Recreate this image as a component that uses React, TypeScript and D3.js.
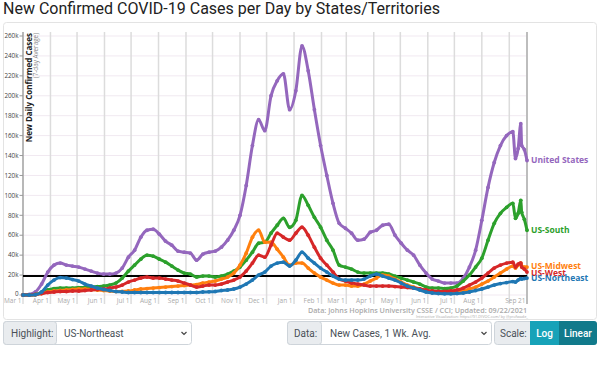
import React, { useEffect, useRef } from "react";
import * as d3 from "d3";

// weekly dates (Sundays) plus a few extra points in Sep 2021
const dates = [
  "2020-03-01", "2020-03-08", "2020-03-15", "2020-03-22", "2020-03-29",
  "2020-04-05", "2020-04-12", "2020-04-19", "2020-04-26",
  "2020-05-03", "2020-05-10", "2020-05-17", "2020-05-24", "2020-05-31",
  "2020-06-07", "2020-06-14", "2020-06-21", "2020-06-28",
  "2020-07-05", "2020-07-12", "2020-07-19", "2020-07-26",
  "2020-08-02", "2020-08-09", "2020-08-16", "2020-08-23", "2020-08-30",
  "2020-09-06", "2020-09-13", "2020-09-20", "2020-09-27",
  "2020-10-04", "2020-10-11", "2020-10-18", "2020-10-25",
  "2020-11-01", "2020-11-08", "2020-11-15", "2020-11-22", "2020-11-29",
  "2020-12-06", "2020-12-13", "2020-12-20", "2020-12-27",
  "2021-01-03", "2021-01-10", "2021-01-17", "2021-01-24", "2021-01-31",
  "2021-02-07", "2021-02-14", "2021-02-21", "2021-02-28",
  "2021-03-07", "2021-03-14", "2021-03-21", "2021-03-28",
  "2021-04-04", "2021-04-11", "2021-04-18", "2021-04-25",
  "2021-05-02", "2021-05-09", "2021-05-16", "2021-05-23", "2021-05-30",
  "2021-06-06", "2021-06-13", "2021-06-20", "2021-06-27",
  "2021-07-04", "2021-07-11", "2021-07-18", "2021-07-25",
  "2021-08-01", "2021-08-08", "2021-08-15", "2021-08-22", "2021-08-29",
  "2021-09-05", "2021-09-08", "2021-09-11", "2021-09-14", "2021-09-15", "2021-09-18", "2021-09-21",
];

// values in thousands, 7-day average
const unitedStates = [
  0, 0.5, 3, 11, 23,
  30, 32, 30, 29,
  28, 26, 24, 22, 21,
  21, 22, 27, 38,
  45, 58, 65, 66,
  61, 54, 50, 44, 43,
  42, 35, 41, 43,
  44, 48, 55, 65,
  80, 110, 150, 176, 165,
  200, 215, 222, 186,
  205, 250, 225, 186, 150,
  120, 92, 72, 67,
  62, 55, 56, 63,
  65, 70, 71, 60,
  52, 45, 40, 30, 22,
  16, 14, 12, 12,
  12, 17, 28, 45,
  75, 108, 133, 150, 160,
  164, 137, 147, 172, 150, 146, 135,
];
const usSouth = [
  0, 0, 0.5, 2.5, 5,
  6.5, 7, 7, 7,
  7.5, 7.5, 8, 8.5, 9,
  10, 12, 17, 24,
  30, 36, 40, 39,
  36, 33, 29, 25, 22,
  21, 18, 19, 19,
  18, 19, 21, 24,
  28, 35, 43, 52, 53,
  62, 70, 77, 68,
  75, 100, 90, 78, 68,
  55, 45, 30, 28,
  26, 23, 22, 22,
  22, 22, 21, 19,
  17, 15, 13, 11, 8,
  7, 7, 6.5, 7,
  9, 14, 20, 28,
  37, 55, 72, 82, 88,
  92, 77, 82, 95, 83, 76, 65,
];
const usMidwest = [
  0, 0, 0.3, 1.5, 3,
  4, 4.5, 5, 5.5,
  6, 6, 5.5, 5, 4.5,
  4, 3.5, 3.5, 4,
  5, 6, 6.5, 7,
  7.5, 8, 8.5, 9, 9.5,
  10, 10.5, 12, 13,
  14, 16, 18, 22,
  30, 42, 58, 65, 53,
  53, 46, 38, 30,
  32, 32, 27, 22, 18,
  15, 12, 10, 10,
  9, 9, 11, 14,
  17, 20, 19, 16,
  13, 10, 8, 6, 4,
  3.5, 3, 2.5, 2.5,
  3, 4, 6, 8,
  11, 14, 18, 22, 26,
  29, 27, 30, 32, 29, 28, 28,
];
const usWest = [
  0, 0.1, 0.5, 1.5, 2.5,
  3, 3.5, 3.5, 4,
  4, 4.5, 5, 5.5, 6,
  7, 8, 10, 13,
  15, 17, 18, 17,
  17, 16, 15, 14, 12,
  10, 8, 9, 10,
  10, 11, 13, 15,
  18, 24, 32, 40, 38,
  50, 62, 58, 55,
  62, 68, 60, 48, 37,
  30, 23, 16, 14,
  12, 11, 10, 9,
  9, 9, 9, 8.5,
  8, 7.5, 7, 6, 5,
  4, 3.5, 3.5, 4,
  5, 7, 10, 13,
  17, 22, 27, 30, 32,
  33, 28, 31, 32, 28, 26, 23,
];
const usNortheast = [
  0, 0, 0.3, 3, 10,
  15, 17.5, 17, 15.5,
  14, 11, 9, 7, 5.5,
  4.5, 3.5, 3, 2.5,
  2.5, 2.5, 2.5, 2.5,
  2.5, 2.5, 2.5, 2.5, 2.5,
  2.5, 2.5, 3, 3.2,
  3.5, 4.5, 5, 6,
  8, 11, 15, 20, 23,
  29, 32, 33, 29,
  35, 43, 37, 32, 27,
  23, 19, 16, 15,
  15, 15, 16, 19,
  21, 19, 17, 15,
  12, 9, 7, 5, 3,
  2, 1.5, 1.2, 1.2,
  1.5, 2, 3, 4.5,
  6, 8, 10, 11.5, 12.5,
  13.5, 13, 15, 16.5, 16, 16.5, 17,
];

const seriesNames = ["United States", "US-South", "US-Midwest", "US-West", "US-Northeast"];
const seriesValues = [unitedStates, usSouth, usMidwest, usWest, usNortheast];
const seriesColors = ["#9467bd", "#2ca02c", "#ff7f0e", "#d62728", "#1f77b4"];
const labelNudge = [0, 0, -1.5, 1, 0];

const referenceLine = 19; // thousands
const startDate = "2020-03-01";
const endDate = "2021-09-21";
const yMax = 260;

const App = () => {
  const svgRef = useRef(null);

  useEffect(() => {
    if (!svgRef.current) return;
    const svg = d3.select(svgRef.current);
    svg.selectAll("*").remove();

    const parse = d3.timeParse("%Y-%m-%d");
    const x = d3.scaleTime()
      .domain([parse(startDate), parse(endDate)])
      .range([23, 527]);
    const y = d3.scaleLinear()
      .domain([0, yMax])
      .range([295, 36]);

    // title
    svg.append("text")
      .attr("x", 3).attr("y", 14)
      .attr("font-family", "Roboto").attr("font-size", 16).attr("fill", "#222")
      .text("New Confirmed COVID-19 Cases per Day by States/Territories");

    // card
    svg.append("rect")
      .attr("x", 3.5).attr("y", 22.5).attr("width", 593).attr("height", 297)
      .attr("rx", 3).attr("fill", "#fff").attr("stroke", "#e3e3e3");

    const g = svg.append("g").attr("font-family", "'Open Sans', sans-serif");

    // horizontal grid
    const yTicks = y.ticks(13);
    g.append("g").selectAll("line").data(yTicks).join("line")
      .attr("x1", 23).attr("x2", 527)
      .attr("y1", d => y(d)).attr("y2", d => y(d))
      .attr("stroke", "#f1e9f1").attr("stroke-width", 1);

    // vertical grid (month starts)
    const months = d3.timeMonth.range(parse(startDate), d3.timeDay.offset(parse(endDate), 1));
    g.append("g").selectAll("line").data(months).join("line")
      .attr("x1", d => x(d)).attr("x2", d => x(d))
      .attr("y1", 32).attr("y2", 304)
      .attr("stroke", "#dcdcdc").attr("stroke-width", 1.5);
    g.append("line")
      .attr("x1", x(parse(endDate))).attr("x2", x(parse(endDate)))
      .attr("y1", 32).attr("y2", 304)
      .attr("stroke", "#bdbdbd").attr("stroke-width", 2);

    // x tick labels
    const fmt = d3.timeFormat("%b %-d");
    const xLabels = months.filter(d => +d !== +parse("2021-09-01")).concat([parse(endDate)]);
    g.append("g").selectAll("text").data(xLabels).join("text")
      .attr("x", d => x(d) - 1.5).attr("y", 303)
      .attr("text-anchor", "end").attr("font-size", 6.5).attr("fill", "#aaa")
      .text(d => fmt(d));

    // y axis
    g.append("line")
      .attr("x1", 23).attr("x2", 23).attr("y1", 32).attr("y2", 296)
      .attr("stroke", "#a8a8a8").attr("stroke-width", 1.5);
    const yAxis = g.append("g").selectAll("g").data(yTicks).join("g")
      .attr("transform", d => `translate(0,${y(d)})`);
    yAxis.append("line").attr("x1", 19.5).attr("x2", 23).attr("stroke", "#999");
    yAxis.append("text")
      .attr("x", 18.5).attr("dy", d => d === 0 ? "0.2em" : "0.35em").attr("text-anchor", "end")
      .attr("font-size", 6.3).attr("fill", "#444")
      .text(d => d === 0 ? "0" : `${d}k`);

    // y axis title
    g.append("text")
      .attr("transform", "translate(31.5,33) rotate(-90)")
      .attr("text-anchor", "end").attr("font-size", 8).attr("font-weight", 700).attr("fill", "#222")
      .text("New Daily Confirmed Cases");
    g.append("text")
      .attr("transform", "translate(38,33) rotate(-90)")
      .attr("text-anchor", "end").attr("font-size", 6.3).attr("fill", "#888")
      .text("(7-day Average)");

    // reference line
    g.append("line")
      .attr("x1", 23).attr("x2", 527)
      .attr("y1", y(referenceLine)).attr("y2", y(referenceLine))
      .attr("stroke", "#000").attr("stroke-width", 2);

    // series
    const parsedDates = dates.map(parse);
    const line = d3.line<number>()
      .x((d, i) => x(parsedDates[i]))
      .y(d => y(d))
      .curve(d3.curveMonotoneX);

    seriesValues.forEach((vals, k) => {
      const sg = g.append("g");
      sg.append("path")
        .attr("d", line(vals))
        .attr("fill", "none").attr("stroke", seriesColors[k])
        .attr("stroke-width", 3).attr("stroke-linejoin", "round");
      sg.selectAll("circle").data(vals).join("circle")
        .attr("cx", (d, i) => x(parsedDates[i])).attr("cy", d => y(d))
        .attr("r", 1.9).attr("fill", seriesColors[k]);
      sg.append("text")
        .attr("x", 531).attr("y", y(vals[vals.length - 1]) + labelNudge[k]).attr("dy", "0.35em")
        .attr("font-size", 8.5).attr("font-weight", 700).attr("fill", seriesColors[k])
        .text(seriesNames[k]);
    });

    // source captions
    g.append("text")
      .attr("x", 527).attr("y", 313).attr("text-anchor", "end")
      .attr("font-size", 7.2).attr("font-weight", 600).attr("fill", "#aaa")
      .text("Data: Johns Hopkins University CSSE / CCI; Updated: 09/22/2021");
    g.append("text")
      .attr("x", 528).attr("y", 318).attr("text-anchor", "end")
      .attr("font-size", 3.8).attr("fill", "#aaa")
      .text("Interactive Visualization: https://91-DIVOC.com/ by @profwade_");

    // controls
    const c = svg.append("g").attr("font-family", "Roboto").attr("font-size", 10);
    const box = (x0, w, fill, stroke, r) => c.append("rect")
      .attr("x", x0 + 0.5).attr("y", 321.5).attr("width", w).attr("height", 23)
      .attr("rx", r).attr("fill", fill).attr("stroke", stroke);
    const label = (x0, t, fill, anchor = "start", weight = 400) => c.append("text")
      .attr("x", x0).attr("y", 333).attr("dy", "0.35em").attr("text-anchor", anchor)
      .attr("fill", fill).attr("font-weight", weight).text(t);
    const chevron = (x0) => c.append("path")
      .attr("d", `M${x0 - 2.5},332 L${x0},334.5 L${x0 + 2.5},332`)
      .attr("fill", "none").attr("stroke", "#444").attr("stroke-width", 1.2);

    box(3, 188, "#fff", "#ced4da", 3);
    box(3, 53, "#e9ecef", "#ced4da", 3);
    label(11, "Highlight:", "#495057");
    label(64, "US-Northeast", "#495057");
    chevron(184);

    box(287, 204, "#fff", "#ced4da", 3);
    box(287, 34, "#e9ecef", "#ced4da", 3);
    label(294, "Data:", "#495057");
    label(330, "New Cases, 1 Wk. Avg.", "#495057");
    chevron(484);

    box(494, 102, "#e9ecef", "#ced4da", 3);
    label(500, "Scale:", "#495057");
    c.append("rect").attr("x", 530).attr("y", 321).attr("width", 29).attr("height", 24).attr("fill", "#17a2b8");
    c.append("rect").attr("x", 559).attr("y", 321).attr("width", 38).attr("height", 24).attr("rx", 3).attr("fill", "#117a8b");
    c.append("rect").attr("x", 559).attr("y", 321).attr("width", 6).attr("height", 24).attr("fill", "#117a8b");
    label(544.5, "Log", "#fff", "middle", 500);
    label(578, "Linear", "#fff", "middle", 500);
  }, []);

  return (
    <svg ref={svgRef} width={600} height={386}
      style={{ position: "absolute", left: 0, top: 0, background: "#fff" }} />
  );
};

export default App;
